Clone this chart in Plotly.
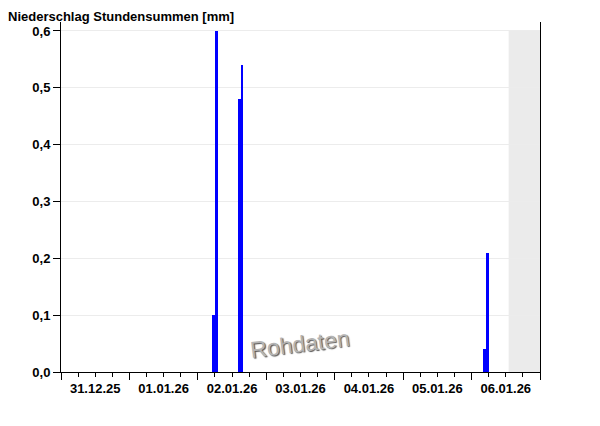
import plotly.graph_objects as go

# hourly precipitation sums (start of hour) in mm
hours = ["2026-01-02 05:00", "2026-01-02 06:00",
         "2026-01-02 14:00", "2026-01-02 15:00",
         "2026-01-06 04:00", "2026-01-06 05:00"]
precip = [0.10, 0.60, 0.48, 0.54, 0.04, 0.21]

days = ["2025-12-31", "2026-01-01", "2026-01-02", "2026-01-03",
        "2026-01-04", "2026-01-05", "2026-01-06", "2026-01-07"]
noons = ["2025-12-31 12:00", "2026-01-01 12:00", "2026-01-02 12:00", "2026-01-03 12:00",
         "2026-01-04 12:00", "2026-01-05 12:00", "2026-01-06 12:00"]
day_labels = ["31.12.25", "01.01.26", "02.01.26", "03.01.26",
              "04.01.26", "05.01.26", "06.01.26"]
data_end = "2026-01-06 13:00"
y_ticks = [0.0, 0.1, 0.2, 0.3, 0.4, 0.5, 0.6]

HOUR_MS = 3600000
FAMILY = "Liberation Sans, Arial, sans-serif"
font = dict(family=FAMILY, size=13, color="black", weight="bold")

fig = go.Figure()
fig.add_trace(go.Bar(
    x=hours, y=precip,
    width=HOUR_MS, offset=0,
    marker=dict(color="#0000ff", line=dict(width=0)),
    hoverinfo="x+y"))

# helper trace so the long midnight ticks get drawn
fig.add_trace(go.Scatter(x=[days[0]], y=[0], xaxis="x2", mode="markers",
                         marker=dict(opacity=0), hoverinfo="skip", showlegend=False))

fig.add_shape(type="rect", xref="x", yref="y",
              x0=data_end, x1=days[-1], y0=0, y1=0.6,
              fillcolor="#ebebeb", line=dict(width=0), layer="below")

fig.add_annotation(text="Rohdaten", x=0.499, y=0.08, xref="paper", yref="paper",
                   xanchor="center", yanchor="middle",
                   showarrow=False, textangle=-7,
                   font=dict(family=FAMILY, size=23, weight="normal",
                             color="#b4b4b4", shadow="1px 1px 1px #555"))

# page body has an 8px margin, margins below compensate for it
fig.update_layout(
    width=600, height=426,
    margin=dict(l=53, r=68, t=14, b=62),
    paper_bgcolor="white", plot_bgcolor="white",
    separators=",.",
    showlegend=False,
    bargap=0,
    font=font,
    title=dict(text="Niederschlag Stundensummen [mm]", x=0, xanchor="left",
               y=1 - 8 / 426, yanchor="middle", yref="container", pad=dict(t=0, l=0),
               font=dict(family=FAMILY, size=13, color="black", weight="bold")),
    xaxis=dict(type="date", range=[days[0], days[-1]],
               tickmode="array", tickvals=noons, ticktext=day_labels,
               ticks="outside", ticklen=4, tickcolor="black", tickwidth=1,
               minor=dict(dtick=6 * HOUR_MS, tick0=days[0], ticks="outside",
                          ticklen=4, tickcolor="black", showgrid=False),
               showline=True, linecolor="black", linewidth=1,
               showgrid=False, zeroline=False, tickfont=font, fixedrange=True),
    xaxis2=dict(type="date", range=[days[0], days[-1]], overlaying="x", anchor="y",
                side="bottom", tickmode="array", tickvals=days,
                ticks="outside", ticklen=7, tickcolor="black", tickwidth=1,
                showticklabels=False, showline=False, showgrid=False, zeroline=False),
    yaxis=dict(range=[0, 0.6158], tickmode="array", tickvals=y_ticks, tickformat=".1f",
               ticks="outside", ticklen=7, tickcolor="black",
               showline=True, mirror=True, linecolor="black", linewidth=1,
               showgrid=True, gridcolor="#ececec", zeroline=False, tickfont=font,
               fixedrange=True),
)

fig.write_html("out.html")
